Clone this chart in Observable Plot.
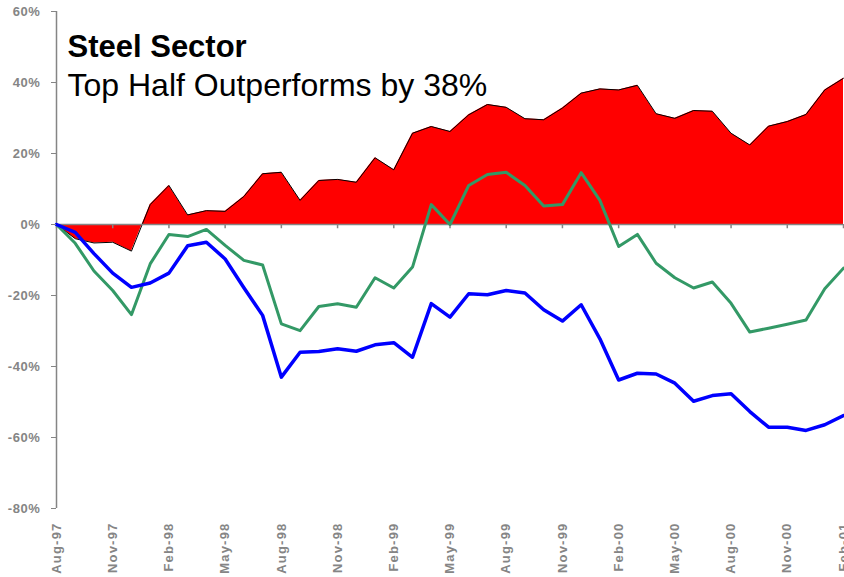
<!DOCTYPE html>
<html>
<head>
<meta charset="utf-8">
<script src="https://cdn.jsdelivr.net/npm/d3@7"></script>
<script src="https://cdn.jsdelivr.net/npm/@observablehq/plot@0.6"></script>
<style>
  html, body { margin: 0; padding: 0; background: #fff; }
  #chart svg { display: block; }
  [aria-label="y-axis tick label"], [aria-label="y-axis tick label"] text { font-size: 13px; font-weight: bold; letter-spacing: 0.6px; }
  [aria-label="x-axis tick label"], [aria-label="x-axis tick label"] text { font-size: 13px; font-weight: bold; letter-spacing: 1.2px; }
</style>
</head>
<body>
<div id="chart"></div>
<script>
const months = ["Aug-97","Sep-97","Oct-97","Nov-97","Dec-97","Jan-98","Feb-98","Mar-98","Apr-98","May-98","Jun-98","Jul-98",
  "Aug-98","Sep-98","Oct-98","Nov-98","Dec-98","Jan-99","Feb-99","Mar-99","Apr-99","May-99","Jun-99","Jul-99",
  "Aug-99","Sep-99","Oct-99","Nov-99","Dec-99","Jan-00","Feb-00","Mar-00","Apr-00","May-00","Jun-00","Jul-00",
  "Aug-00","Sep-00","Oct-00","Nov-00","Dec-00","Jan-01","Feb-01"];

// Spread (top half minus bottom half), %
const spread = [0,-4.0,-5.2,-5.0,-7.5,5.6,11.0,2.7,3.9,3.7,7.9,14.3,14.7,6.8,12.4,12.7,11.9,18.8,15.4,25.7,27.6,26.2,30.9,33.8,33.0,29.8,29.5,32.8,37.0,38.2,37.9,39.2,31.2,29.9,32.1,31.9,25.7,22.4,27.7,29.0,31.0,37.9,41.2];
// Top half (green), %
const topHalf = [0,-5.3,-13.1,-18.6,-25.4,-11.1,-2.8,-3.4,-1.4,-5.9,-10.1,-11.4,-28.0,-29.9,-23.1,-22.3,-23.3,-15.0,-17.9,-12.0,5.6,0.0,11.0,14.1,14.7,11.0,5.2,5.6,14.6,6.8,-6.2,-2.8,-10.9,-15.0,-17.9,-16.2,-22.2,-30.3,-29.2,-28.1,-26.9,-18.1,-12.3];
// Bottom half (blue), %
const bottomHalf = [0,-2.2,-8.2,-13.7,-17.7,-16.5,-13.7,-6.0,-5.0,-9.7,-17.8,-25.6,-43.0,-36.0,-35.8,-35.0,-35.7,-33.9,-33.3,-37.4,-22.3,-26.1,-19.5,-19.8,-18.6,-19.3,-24.0,-27.2,-22.6,-32.2,-43.8,-41.9,-42.1,-44.7,-49.8,-48.2,-47.7,-52.7,-57.1,-57.1,-58.0,-56.4,-53.8];

const yTicks = [-80,-60,-40,-20,0,20,40,60];
const xTickLabels = months.filter((m, i) => i % 3 === 0);
const titleText = "Steel Sector";
const subtitleText = "Top Half Outperforms by 38%";

const data = months.map((m, i) => ({month: m, spread: spread[i], top: topHalf[i], bottom: bottomHalf[i]}));

const axisGray = "#858585";

const chart = Plot.plot({
  width: 844,
  height: 577,
  marginLeft: 56,
  marginRight: 1,
  marginTop: 11,
  marginBottom: 69,
  style: {fontFamily: "'Liberation Sans', Arial, sans-serif", background: "#fff"},
  x: {type: "point", domain: months, padding: 0},
  y: {domain: [-80, 60]},
  marks: [
    Plot.areaY(data, {x: "month", y: "spread", fill: "#ff0000"}),
    Plot.lineY(data, {x: "month", y: "spread", stroke: "#000", strokeWidth: 1}),
    Plot.ruleY([0], {stroke: axisGray, strokeWidth: 1.5}),
    Plot.ruleX(xTickLabels, {x: d => d, y1: 0, y2: -1.2, stroke: axisGray, strokeWidth: 1.5}),
    Plot.ruleX([months[0]], {y1: -80, y2: 60, stroke: axisGray, strokeWidth: 1.5}),
    Plot.lineY(data, {x: "month", y: "top", stroke: "#339966", strokeWidth: 3}),
    Plot.lineY(data, {x: "month", y: "bottom", stroke: "#0000ff", strokeWidth: 3.5}),
    Plot.axisY({ticks: yTicks, tickFormat: d => d + "%", tickSize: 5, tickPadding: 11, stroke: axisGray, fill: axisGray, fontSize: 13, fontWeight: "bold", label: null}),
    Plot.axisX({ticks: xTickLabels, tickSize: 0, tickPadding: 14, tickRotate: -90, fill: axisGray, fontSize: 13, fontWeight: "bold", label: null}),
    Plot.text([titleText], {text: d => d, frameAnchor: "top-left", dx: 11, dy: 45, lineAnchor: "bottom", textAnchor: "start", fontSize: 31, fontWeight: "bold", fill: "#000"}),
    Plot.text([subtitleText], {text: d => d, frameAnchor: "top-left", dx: 11, dy: 84, lineAnchor: "bottom", textAnchor: "start", fontSize: 32, fill: "#000"})
  ]
});
document.getElementById("chart").appendChild(chart);
</script>
</body>
</html>
